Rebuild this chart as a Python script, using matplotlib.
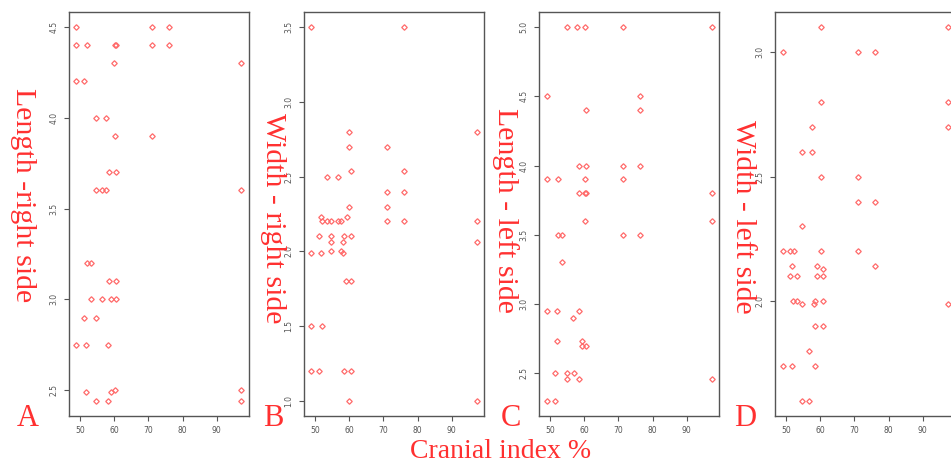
import matplotlib
matplotlib.use("Agg")
import matplotlib.pyplot as plt

# x = cranial index %, y = measurement (one list pair per panel)
xA = [48.9, 48.9, 52.1, 60.3, 60.5, 60.0, 48.9, 51.2, 71.1, 76.0, 71.1, 76.0,
      54.8, 57.6, 60.1, 71.1, 58.4, 60.5, 54.6, 56.5, 57.6, 52.2, 53.1, 58.4,
      60.5, 53.2, 56.5, 59.2, 60.5, 51.2, 54.7, 48.9, 51.8, 58.2, 51.8, 59.2,
      60.1, 54.8, 58.2, 97.2, 97.2, 97.2, 97.2]
yA = [4.5, 4.4, 4.4, 4.4, 4.4, 4.3, 4.2, 4.2, 4.5, 4.5, 4.4, 4.4,
      4.0, 4.0, 3.9, 3.9, 3.7, 3.7, 3.6, 3.6, 3.6, 3.2, 3.2, 3.1,
      3.1, 3.0, 3.0, 3.0, 3.0, 2.9, 2.9, 2.75, 2.75, 2.75, 2.49, 2.49,
      2.5, 2.44, 2.44, 4.3, 3.6, 2.5, 2.44]

xB = [48.8, 76.0, 60.0, 71.0, 60.0, 53.4, 56.6, 60.5, 76.0, 71.0, 76.0, 60.0,
      71.0, 51.8, 59.3, 52.2, 53.4, 54.8, 56.6, 57.5, 71.0, 76.0, 51.3, 54.8,
      58.4, 60.6, 54.8, 58.2, 48.8, 51.8, 54.8, 57.5, 58.3, 59.2, 60.6, 48.8,
      52.2, 48.8, 51.3, 58.4, 60.6, 60.0, 97.3, 97.3, 97.3, 97.3]
yB = [3.5, 3.5, 2.8, 2.7, 2.7, 2.5, 2.5, 2.54, 2.54, 2.4, 2.4, 2.3,
      2.3, 2.23, 2.23, 2.2, 2.2, 2.2, 2.2, 2.2, 2.2, 2.2, 2.1, 2.1,
      2.1, 2.1, 2.06, 2.06, 1.99, 1.99, 2.0, 2.0, 1.99, 1.8, 1.8, 1.5,
      1.5, 1.2, 1.2, 1.2, 1.2, 1.0, 2.8, 2.2, 2.06, 1.0]

xC = [54.9, 57.8, 60.3, 71.3, 97.4, 49.2, 76.2, 76.2, 60.6, 58.6, 60.6, 71.3,
      76.2, 49.2, 52.4, 60.3, 71.3, 58.6, 60.3, 60.6, 97.4, 60.3, 97.4, 52.4,
      53.5, 71.3, 76.2, 53.5, 49.2, 52.1, 58.4, 56.8, 52.1, 59.4, 59.4, 60.6,
      51.5, 54.9, 57.0, 54.9, 58.4, 97.4, 49.2, 51.5]
yC = [5.0, 5.0, 5.0, 5.0, 5.0, 4.5, 4.5, 4.4, 4.4, 4.0, 4.0, 4.0,
      4.0, 3.9, 3.9, 3.9, 3.9, 3.8, 3.8, 3.8, 3.8, 3.6, 3.6, 3.5,
      3.5, 3.5, 3.5, 3.3, 2.95, 2.95, 2.95, 2.9, 2.73, 2.73, 2.7, 2.7,
      2.5, 2.5, 2.5, 2.46, 2.46, 2.46, 2.3, 2.3]

xD = [60.1, 97.4, 49.0, 71.0, 76.0, 60.1, 97.4, 57.7, 97.4, 54.7, 57.7, 60.1,
      71.0, 71.0, 76.0, 54.7, 49.0, 51.2, 52.3, 60.1, 71.0, 51.9, 59.1, 76.0,
      60.7, 51.2, 53.3, 59.1, 60.7, 52.1, 53.3, 54.7, 58.1, 58.6, 60.7, 97.4,
      58.4, 60.7, 56.7, 49.0, 51.9, 58.4, 54.7, 56.7]
yD = [3.1, 3.1, 3.0, 3.0, 3.0, 2.8, 2.8, 2.7, 2.7, 2.6, 2.6, 2.5,
      2.5, 2.4, 2.4, 2.3, 2.2, 2.2, 2.2, 2.2, 2.2, 2.14, 2.14, 2.14,
      2.13, 2.1, 2.1, 2.1, 2.1, 2.0, 2.0, 1.99, 1.99, 2.0, 2.0, 1.99,
      1.9, 1.9, 1.8, 1.74, 1.74, 1.74, 1.6, 1.6]

ylabels = ["Length -right side", "Width - right side", "Length - left side", "Width - left side"]
letters = ["A", "B", "C", "D"]
xticks = [50, 60, 70, 80, 90]
yticks = [[2.5, 3.0, 3.5, 4.0, 4.5],
          [1.0, 1.5, 2.0, 2.5, 3.0, 3.5],
          [2.5, 3.0, 3.5, 4.0, 4.5, 5.0],
          [2.0, 2.5, 3.0]]

W, H = 951, 468
RED = "#ff3030"
SERIF = "Liberation Serif"

fig = plt.figure(figsize=(W / 100, H / 100), dpi=100)

panel_left = [69, 304, 539, 775]      # pixel position of each frame
label_x = [23, 273, 505, 743]
label_y = [195, 218, 210, 217]
letter_x = [28, 273, 511, 745]
series = [(xA, yA), (xB, yB), (xC, yC), (xD, yD)]

for i, (xs, ys) in enumerate(series):
    ax = fig.add_axes([panel_left[i] / W, 52 / H, 180 / W, 404 / H])
    ax.plot(xs, ys, linestyle="none", marker="D", markersize=2.8,
            markerfacecolor="none", markeredgecolor="#ff6a6a", markeredgewidth=0.9)
    ax.set_xlim(46.8, 99.4)
    ymin, ymax = min(ys), max(ys)
    pad = (ymax - ymin) * 0.04
    ax.set_ylim(ymin - pad, ymax + pad)
    ax.set_xticks(xticks)
    ax.set_yticks(yticks[i])
    ax.set_xticklabels([str(t) for t in xticks])
    ax.set_yticklabels(["%.1f" % t for t in yticks[i]])
    ax.tick_params(labelsize=5.5, labelcolor="#555555", color="#555555",
                   length=3.5, width=0.8, pad=4)
    ax.tick_params(axis="y", labelrotation=90)
    for lab in ax.get_yticklabels():
        lab.set_va("center")
    for sp in ax.spines.values():
        sp.set_color("#555555")
        sp.set_linewidth(1.0)

    fig.text(label_x[i] / W, 1 - label_y[i] / H, ylabels[i], rotation=270,
             ha="center", va="center", color=RED, family=SERIF, fontsize=21.5)
    fig.text(letter_x[i] / W, 1 - 418 / H, letters[i], ha="center", va="center",
             color=RED, family=SERIF, fontsize=22)

fig.text(501 / W, 1 - 452 / H, "Cranial index %", ha="center", va="center",
         color=RED, family=SERIF, fontsize=20)

fig.savefig("out.png", dpi=100)
